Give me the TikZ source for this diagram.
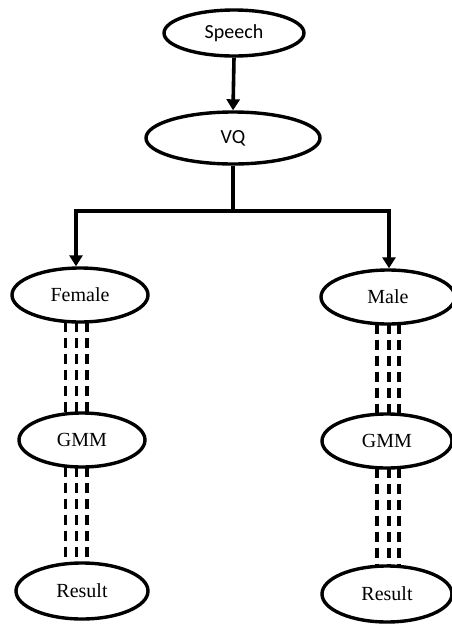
\documentclass[tikz,border=0pt]{standalone}
\usepackage{fontspec}
\setmainfont{Liberation Serif}
\newfontfamily\calib{Carlito}
\usetikzlibrary{shapes.geometric,arrows.meta,backgrounds}
\begin{document}
\begin{tikzpicture}[x=1pt,y=1pt,
  oval/.style={ellipse,draw,line width=3.4pt,fill=white,inner sep=0pt},
  sansoval/.style={oval,font=\calib\fontsize{20}{22}\selectfont},
  serifoval/.style={oval,font=\fontsize{20}{22}\selectfont},
  flow/.style={line width=3.6pt,-{Triangle[width=13pt,length=11pt]}},
  bar/.style={line width=3.6pt},
  dashlink/.style={line width=3.6pt,dash pattern=on 10pt off 6pt}]
\useasboundingbox (0,0) rectangle (451,-625);

% nodes
\node[sansoval,minimum width=140pt,minimum height=46pt] (speech) at (234,-33) {Speech};
\node[sansoval,minimum width=174pt,minimum height=52pt] (vq) at (233,-138) {VQ};
\node[serifoval,minimum width=136pt,minimum height=54pt] (female) at (80,-295) {Female};
\node[serifoval,minimum width=134pt,minimum height=54pt] (male) at (388,-297) {Male};
\node[serifoval,minimum width=126pt,minimum height=54pt] (gmmf) at (82,-440) {GMM};
\node[serifoval,minimum width=130pt,minimum height=54pt] (gmmm) at (387,-441) {GMM};
\node[serifoval,minimum width=132pt,minimum height=56pt] (resf) at (82,-591) {Result};
\node[serifoval,minimum width=130pt,minimum height=56pt] (resm) at (387,-594) {Result};

% splitting connectors
\coordinate (jc) at (233,-211);
\coordinate (jl) at (76,-211);
\coordinate (jr) at (389,-211);
\begin{scope}[on background layer]
\draw[flow] (speech.south) -- (vq.north);
\draw[bar] (vq.south) -- (jc);
\draw[bar,line cap=rect] (jl) -- (jr);
\draw[flow] (jl) -- (jl |- female.north);
\draw[flow] (jr) -- (jr |- male.north);

% triple dashed links
\foreach \x in {65.5,76.5,87} {
  \coordinate (p) at (\x,0);
  \draw[dashlink] ([yshift=2pt]p |- female.south) -- ([yshift=-1pt]p |- gmmf.north);
  \draw[dashlink] ([yshift=2pt]p |- gmmf.south) -- ([yshift=-1pt]p |- resf.north);
}
\foreach \x in {377,389,399} {
  \coordinate (q) at (\x,0);
  \draw[dashlink] ([yshift=2pt]q |- male.south) -- ([yshift=-1pt]q |- gmmm.north);
  \draw[dashlink] ([yshift=2pt]q |- gmmm.south) -- ([yshift=-1pt]q |- resm.north);
}
\end{scope}
\end{tikzpicture}
\end{document}
